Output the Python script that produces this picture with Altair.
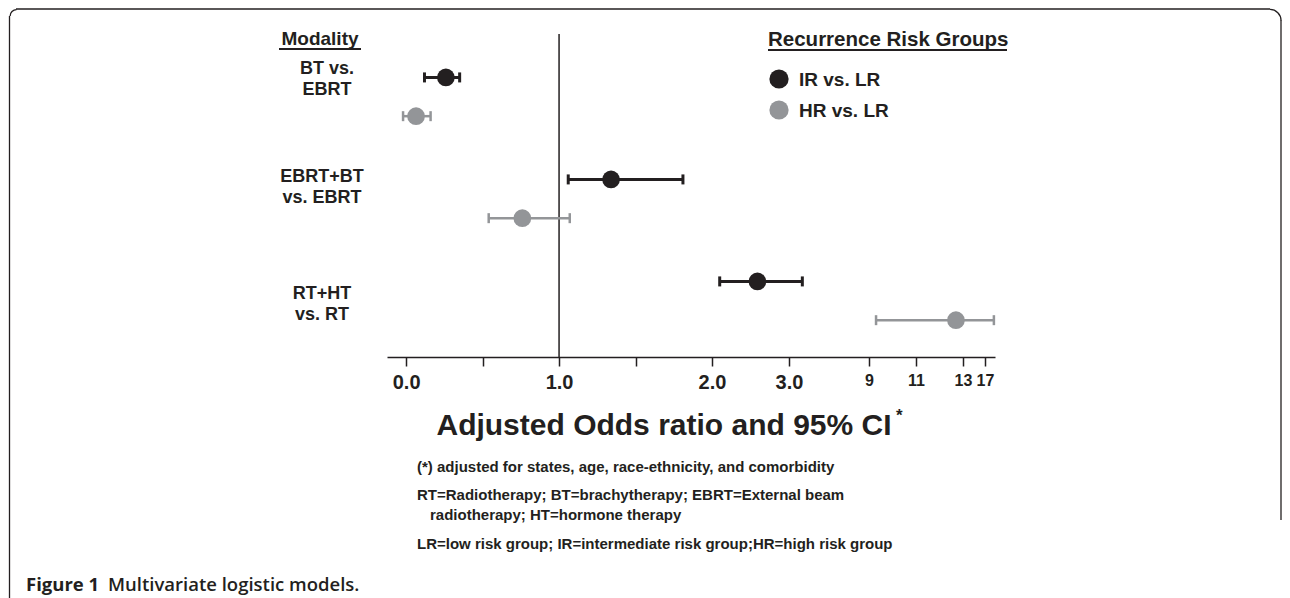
import altair as alt
import pandas as pd

# ---------------- data ----------------
modalities = ["BT vs. EBRT", "EBRT+BT vs. EBRT", "RT+HT vs. RT"]
groups = ["IR vs. LR", "HR vs. LR"]

ir_or = [0.26, 1.34, 2.59]
ir_lo = [0.12, 1.06, 2.10]
ir_hi = [0.35, 1.81, 4.0]

hr_or = [0.065, 0.76, 12.7]
hr_lo = [-0.02, 0.54, 9.3]
hr_hi = [0.16, 1.07, 18.6]

tick_values = [0, 0.5, 1, 1.5, 2, 3, 9, 11, 13, 17]

rows = []
for i, m in enumerate(modalities):
    rows.append({"modality": m, "mod_idx": i, "group": groups[0], "or": ir_or[i], "lo": ir_lo[i], "hi": ir_hi[i]})
    rows.append({"modality": m, "mod_idx": i, "group": groups[1], "or": hr_or[i], "lo": hr_lo[i], "hi": hr_hi[i]})
df = pd.DataFrame(rows)

BLACK = "#231f20"
GRAY = "#939598"
FONT = "Liberation Sans, Arial, Helvetica, sans-serif"
CAP_FONT = "Open Sans, Noto Sans, sans-serif"

# piecewise (hand-drawn style) odds-ratio axis
xs = alt.Scale(domain=[-0.125, 2, 3, 9, 13, 17, 18.8],
               range=[379, 704, 781, 861, 955, 977, 987], nice=False, zero=False)
ys = alt.Scale(domain=[-0.5, 2.5], range=[37.8, 343.8], nice=False, zero=False)
cs = alt.Scale(domain=groups, range=[BLACK, GRAY])
ws = alt.Scale(domain=groups, range=[3, 2.5])

x_axis = alt.Axis(
    values=tick_values,
    labelExpr="datum.value == 0.5 || datum.value == 1.5 ? '' : (datum.value <= 3 ? format(datum.value, '.1f') : format(datum.value, 'd'))",
    labelFont=FONT, labelFontWeight="bold", labelColor=BLACK,
    labelFontSize={"condition": {"test": "datum.value > 3", "value": 16}, "value": 20},
    labelOverlap=False, labelFlush=False, labelPadding=6,
    domainColor=BLACK, domainWidth=1.5, tickColor=BLACK, tickWidth=1.5, tickSize=9,
    grid=False, title=None,
)

base = alt.Chart(df).transform_calculate(
    pos="datum.mod_idx + (datum.group == 'IR vs. LR' ? -0.19 : 0.19)"
)

ref = alt.Chart(pd.DataFrame({"x": [1]})).mark_rule(color=BLACK, strokeWidth=1.5).encode(
    x=alt.X("x:Q", scale=xs, axis=x_axis), y=alt.value(26), y2=alt.value(349)
)

ci = base.mark_rule().encode(
    x=alt.X("lo:Q", scale=xs, axis=x_axis), x2="hi:Q",
    y=alt.Y("pos:Q", scale=ys, axis=None),
    color=alt.Color("group:N", scale=cs, legend=None),
    strokeWidth=alt.StrokeWidth("group:N", scale=ws, legend=None),
)

caps = base.transform_fold(["lo", "hi"], as_=["end", "val"]).mark_point(
    shape="M0,-1L0,1", filled=False, size=100, opacity=1
).encode(
    x=alt.X("val:Q", scale=xs, axis=x_axis),
    y=alt.Y("pos:Q", scale=ys, axis=None),
    color=alt.Color("group:N", scale=cs, legend=None),
    strokeWidth=alt.StrokeWidth("group:N", scale=ws, legend=None),
)

pts = base.mark_circle(size=314, opacity=1).encode(
    x=alt.X("or:Q", scale=xs, axis=x_axis),
    y=alt.Y("pos:Q", scale=ys, axis=None),
    color=alt.Color("group:N", scale=cs, legend=None),
)

one = pd.DataFrame({"a": [0]})


def txt(s, x, y, size, weight="bold", align="left", font=FONT, color=BLACK):
    return alt.Chart(one).mark_text(
        text=s, font=font, fontSize=size, fontWeight=weight, align=align,
        baseline="alphabetic", color=color
    ).encode(x=alt.value(x), y=alt.value(y))


def hline(x1, x2, y, w=1.5, color=BLACK):
    return alt.Chart(one).mark_rule(color=color, strokeWidth=w).encode(
        x=alt.value(x1), x2=alt.value(x2), y=alt.value(y)
    )


def vline(x, y1, y2, w=1.5, color=BLACK):
    return alt.Chart(one).mark_rule(color=color, strokeWidth=w).encode(
        x=alt.value(x), y=alt.value(y1), y2=alt.value(y2)
    )


layers = [ref, ci, caps, pts]

# Modality header + row labels
layers += [
    txt("Modality", 312, 37, 19, align="center"),
    hline(271, 353, 41, w=2),
    txt("BT vs.", 319, 66, 18, align="center"),
    txt("EBRT", 319, 87, 18, align="center"),
    txt("EBRT+BT", 314, 174, 18, align="center"),
    txt("vs. EBRT", 314, 195, 18, align="center"),
    txt("RT+HT", 314, 291, 18, align="center"),
    txt("vs. RT", 314, 312, 18, align="center"),
]

# Legend
layers += [
    txt("Recurrence Risk Groups", 760, 38, 20.5),
    hline(760, 999, 42, w=2),
    alt.Chart(one).mark_circle(opacity=1).encode(
        x=alt.value(771), y=alt.value(71), size=alt.value(370), color=alt.value(BLACK)),
    alt.Chart(one).mark_circle(opacity=1).encode(
        x=alt.value(771), y=alt.value(102), size=alt.value(370), color=alt.value(GRAY)),
    txt(groups[0], 791, 77.5, 19),
    txt(groups[1], 791, 108.5, 19),
]

# Axis title
layers += [
    txt("Adjusted Odds ratio and 95% CI", 656, 427, 30, align="center"),
    txt("*", 888, 413, 17),
]

# Footnotes
layers += [
    txt("(*) adjusted for states, age, race-ethnicity, and comorbidity", 409, 464, 15),
    txt("RT=Radiotherapy; BT=brachytherapy; EBRT=External beam", 409, 492, 15),
    txt("radiotherapy; HT=hormone therapy", 422, 512, 15),
    txt("LR=low risk group; IR=intermediate risk group;HR=high risk group", 409, 541, 15),
]

# Caption
layers += [
    txt("Figure 1", 18, 583, 18.5, weight="bold", font=CAP_FONT),
    txt("Multivariate logistic models.", 100, 583, 18.5, weight=600, font=CAP_FONT),
]

# Frame
layers += [
    vline(1.5, 8, 590, w=1.3),
    hline(8, 1262, 1, w=1.3),
    vline(1273, 12, 512, w=1.3),
    alt.Chart(one).mark_arc(innerRadius=10.4, outerRadius=11.7, theta=0, theta2=1.5708, color=BLACK).encode(
        x=alt.value(1262), y=alt.value(12.5)),
    alt.Chart(one).mark_arc(innerRadius=5.7, outerRadius=7, theta=4.7124, theta2=6.2832, color=BLACK).encode(
        x=alt.value(8.5), y=alt.value(8)),
]

chart = alt.layer(*layers).properties(
    width=1274, height=349,
    autosize=alt.AutoSizeParams(type="none"),
    padding={"left": 0, "top": 0, "right": 0, "bottom": 241},
    background="white",
).configure_view(stroke=None)

chart.save("out.html", embed_options={"renderer": "svg", "actions": False})
